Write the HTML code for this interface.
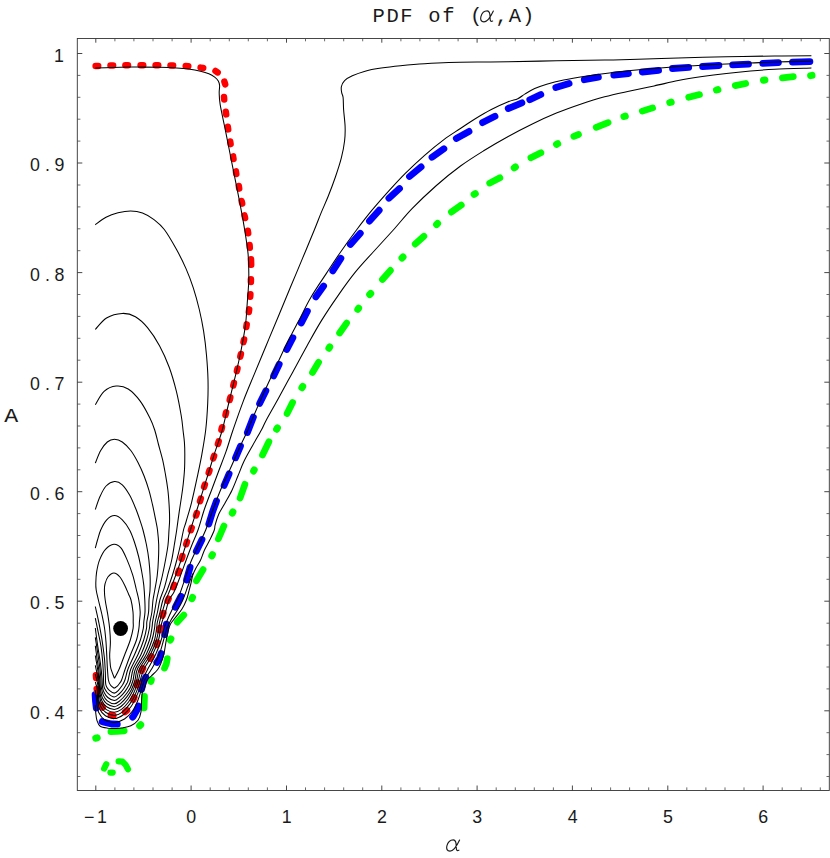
<!DOCTYPE html>
<html><head><meta charset="utf-8"><title>PDF of (alpha, A)</title>
<style>html,body{margin:0;padding:0;background:#fff}svg{display:block}text{font-family:"Liberation Mono",monospace;fill:#1a1a1a}text.d{font-family:"Liberation Sans",sans-serif}</style></head><body>
<svg width="830" height="858" viewBox="0 0 830 858">
<rect width="830" height="858" fill="#fff"/>
<g fill="none" stroke="#00ff00" stroke-width="6.7" stroke-linecap="round" stroke-linejoin="round">
<path d="M793.3,76.6L782.4,77.9"/>
<path d="M745.7,83.5L735.3,85.6"/>
<path d="M699.5,94.6L688.7,97.3"/>
<path d="M652.6,107.9L642.3,111.1"/>
<path d="M608.1,122.6L596.2,127.3"/>
<path d="M578.5,134.5L573.8,136.3"/>
<path d="M540.9,152.8L530.9,157.8"/>
<path d="M499.9,177.7L489.7,183.1"/>
<path d="M461.3,205.1L451.4,212.1"/>
<path d="M423.9,236.2L415.2,244.1"/>
<path d="M390.4,270.4L382.4,279.4"/>
<path d="M346.6,323.1L339.6,333.0"/>
<path d="M318.6,362.3L312.5,372.4"/>
<path d="M292.6,402.5L287.1,413.4"/>
<path d="M268.9,441.7L262.5,455.0"/>
<path d="M244.9,484.3L240.1,498.0"/>
<path d="M223.9,526.0L218.4,538.8"/>
<path d="M203.1,569.6L196.4,580.8"/>
<path d="M183.8,615.0L177.2,622.1"/>
<path d="M167.3,658.6L166.3,664.0L164.5,668.1"/>
<path d="M144.5,696.3L144.3,702.0L144.1,708.0"/>
<path d="M124.2,730.8L117.0,731.4L110.9,731.6"/>
</g>
<g fill="none" stroke="#00ff00" stroke-width="6.2" stroke-linecap="round" stroke-linejoin="round">
<path d="M104.1,768.6L106.3,764.2"/>
<path d="M110.4,772.6L112.7,772.6"/>
<path d="M118.6,761.3L122.5,761.7L125.4,764.6L128.0,769.3"/>
</g>
<g fill="none" stroke="#00ff00" stroke-width="7.0" stroke-linecap="round">
<path d="M812.0,75.4L810.6,75.6"/>
<path d="M764.9,80.0L763.5,80.2"/>
<path d="M717.9,89.6L716.5,90.0"/>
<path d="M671.2,102.1L669.8,102.5"/>
<path d="M625.3,116.1L623.9,116.5"/>
<path d="M557.7,143.7L556.5,144.3"/>
<path d="M515.4,167.0L514.2,167.8"/>
<path d="M475.3,193.6L474.1,194.4"/>
<path d="M437.6,223.5L436.6,224.5"/>
<path d="M403.0,257.0L402.0,258.0"/>
<path d="M370.7,293.5L369.7,294.5"/>
<path d="M358.6,308.2L357.8,309.4"/>
<path d="M329.7,347.0L328.9,348.2"/>
<path d="M302.7,386.5L301.9,387.7"/>
<path d="M277.4,428.0L276.6,429.2"/>
<path d="M254.2,469.8L253.6,471.0"/>
<path d="M232.9,511.9L232.3,513.1"/>
<path d="M212.4,554.7L211.8,555.9"/>
<path d="M192.5,597.5L191.9,598.7"/>
<path d="M170.9,638.8L170.3,640.0"/>
<path d="M151.3,679.9L150.9,681.3"/>
<path d="M140.7,724.8L139.7,725.8"/>
<path d="M97.2,737.8L95.8,738.2"/>
</g>
<g fill="none" stroke="#0000ff" stroke-width="6.8" stroke-linecap="round" stroke-linejoin="round">
<path d="M809.9,61.7L792.5,62.2"/>
<path d="M778.4,62.6L762.8,63.4"/>
<path d="M748.5,64.1L732.7,64.8"/>
<path d="M718.9,65.5L702.6,66.5"/>
<path d="M688.7,67.4L672.5,68.5"/>
<path d="M658.6,70.3L642.3,72.0"/>
<path d="M628.4,73.6L613.8,75.1"/>
<path d="M598.4,77.2L584.3,79.7"/>
<path d="M569.1,83.4L555.8,87.4"/>
<path d="M540.8,94.5L529.8,99.8"/>
<path d="M521.9,102.8L508.2,108.5"/>
<path d="M495.0,116.2L482.6,122.6"/>
<path d="M469.0,131.4L456.3,138.4"/>
<path d="M443.9,148.8L432.0,157.2"/>
<path d="M421.1,166.9L409.5,176.5"/>
<path d="M399.5,188.6L388.9,198.2"/>
<path d="M379.2,210.2L369.5,221.1"/>
<path d="M360.3,233.3L350.4,244.4"/>
<path d="M340.9,258.3L332.8,270.8"/>
<path d="M323.6,286.0L315.9,296.9"/>
<path d="M307.4,311.2L301.3,323.0"/>
<path d="M292.9,337.7L286.8,349.5"/>
<path d="M279.2,364.2L273.6,376.0"/>
<path d="M265.9,390.7L259.6,403.5"/>
<path d="M253.4,417.1L247.4,432.6"/>
<path d="M240.5,446.2L235.5,457.8"/>
<path d="M229.1,473.9L224.1,485.5"/>
<path d="M216.5,501.0L212.5,512.0L208.8,524.1"/>
<path d="M202.0,539.5L196.3,551.2"/>
<path d="M190.1,567.3L186.5,580.0"/>
<path d="M180.9,596.2L175.3,607.2"/>
<path d="M166.4,624.2L164.6,634.6"/>
<path d="M161.1,653.5L159.5,658.5L156.8,662.5"/>
<path d="M145.7,677.1L143.4,681.7L141.6,689.5"/>
<path d="M138.5,705.9L137.4,709.4L133.2,716.6L132.6,717.2"/>
<path d="M117.3,724.2L111.5,724.0L103.1,722.0L102.2,721.6"/>
<path d="M96.3,708.0L95.5,701.0L95.1,694.6"/>
</g>
<g fill="none" stroke="#ff0000" stroke-width="6.5" stroke-linecap="round">
<path d="M95.6,65.9L98.2,65.9"/>
<path d="M110.5,65.4L113.1,65.4"/>
<path d="M125.4,65.2L128.0,65.2"/>
<path d="M140.6,65.2L143.2,65.2"/>
<path d="M155.6,65.2L158.2,65.2"/>
<path d="M170.5,65.4L173.1,65.4"/>
<path d="M185.7,66.0L188.3,66.2"/>
<path d="M200.6,67.6L203.2,68.0"/>
<path d="M215.5,71.0L217.7,72.4"/>
<path d="M224.4,81.7L225.2,84.3"/>
<path d="M224.0,96.9L224.2,99.5"/>
<path d="M225.8,111.8L226.2,114.4"/>
<path d="M227.8,126.8L228.2,129.4"/>
<path d="M230.2,141.5L230.6,144.1"/>
<path d="M233.1,156.4L233.5,159.0"/>
<path d="M235.9,171.4L236.3,174.0"/>
<path d="M238.8,186.0L239.2,188.6"/>
<path d="M241.6,201.0L242.2,203.6"/>
<path d="M244.5,215.4L245.1,218.0"/>
<path d="M247.8,230.7L248.2,233.3"/>
<path d="M249.6,245.1L249.8,247.7"/>
<path d="M251.0,259.2L251.2,264.8"/>
<path d="M250.9,279.3L250.9,281.9"/>
<path d="M250.4,294.2L250.2,296.8"/>
<path d="M249.2,309.4L248.8,312.0"/>
<path d="M246.7,324.4L246.3,327.0"/>
<path d="M244.1,339.5L243.5,342.1"/>
<path d="M240.9,354.0L240.3,356.6"/>
<path d="M237.5,368.5L236.9,371.1"/>
<path d="M233.9,382.9L233.3,385.5"/>
<path d="M230.3,397.4L229.7,400.0"/>
<path d="M226.1,412.3L225.5,414.9"/>
<path d="M222.0,427.2L221.4,429.8"/>
<path d="M218.7,441.4L217.9,444.0"/>
<path d="M214.1,455.9L213.3,458.3"/>
<path d="M209.5,470.4L208.7,472.8"/>
<path d="M204.9,484.5L204.1,486.9"/>
<path d="M200.8,498.6L200.0,501.2"/>
<path d="M196.8,513.1L196.0,515.5"/>
<path d="M191.7,527.8L190.9,530.2"/>
<path d="M187.0,541.8L186.2,544.2"/>
<path d="M182.4,556.2L181.6,558.8"/>
<path d="M178.8,570.7L178.0,573.1"/>
<path d="M174.2,584.8L173.4,587.2"/>
<path d="M168.6,598.7L167.6,601.1"/>
<path d="M163.4,613.0L162.6,615.6"/>
<path d="M160.1,627.7L159.5,630.3"/>
<path d="M157.6,642.5L156.8,644.9"/>
<path d="M151.5,656.4L150.3,658.6"/>
<path d="M143.0,668.4L141.8,670.8"/>
<path d="M137.6,682.7L136.8,685.1"/>
<path d="M134.3,697.4L133.3,699.8"/>
<path d="M127.0,710.4L125.0,712.0"/>
<path d="M113.4,715.5L110.8,715.1"/>
<path d="M102.6,707.6L101.2,705.4"/>
<path d="M97.3,691.6L96.7,689.0"/>
<path d="M96.1,677.9L95.9,675.3"/>
</g>
<g fill="none" stroke="#000" stroke-width="1.05" stroke-linejoin="round" stroke-linecap="butt">
<path d="M114.5,678.3C115.3,676.8 117.5,673.0 119.2,669.0C120.9,665.0 122.9,659.3 124.8,654.5C126.7,649.7 128.9,644.4 130.3,640.0C131.7,635.6 132.6,631.4 133.1,628.4C133.6,625.4 133.2,624.7 133.2,622.0C133.2,619.3 133.4,615.7 133.0,612.0C132.6,608.3 131.8,603.0 131.0,600.0C130.2,597.0 129.5,596.4 128.5,594.0C127.5,591.6 126.2,588.2 124.8,585.4C123.4,582.6 121.7,579.1 119.9,577.0C118.1,574.9 115.9,573.0 113.9,573.0C111.9,573.0 109.4,575.2 107.9,577.0C106.4,578.8 105.6,581.8 105.0,584.0C104.4,586.2 104.4,587.3 104.4,590.0C104.4,592.7 104.6,595.7 105.2,600.0C105.8,604.3 107.3,611.3 108.0,616.0C108.7,620.7 109.2,623.7 109.6,628.0C110.0,632.3 110.4,637.6 110.4,642.0C110.4,646.4 109.8,651.2 109.7,654.2C109.6,657.2 109.7,657.6 109.9,660.0C110.1,662.4 110.1,665.7 110.9,668.7C111.7,671.8 113.9,676.7 114.5,678.3"/>
<path d="M114.3,688.3C114.8,687.9 116.7,686.7 117.6,685.8C118.5,684.9 119.1,684.0 119.8,683.0C120.5,682.0 120.7,682.3 121.6,680.0C122.5,677.7 123.7,673.2 125.2,669.0C126.7,664.8 128.7,659.3 130.6,654.5C132.5,649.7 135.1,644.4 136.5,640.0C137.9,635.6 138.4,631.4 138.9,628.4C139.4,625.4 139.2,624.7 139.4,622.0C139.6,619.3 140.3,615.7 140.2,612.0C140.1,608.3 139.5,603.8 138.8,600.0C138.1,596.2 137.2,593.2 136.2,589.0C135.2,584.8 134.1,579.4 132.6,574.6C131.1,569.8 129.1,564.5 127.2,560.1C125.3,555.7 123.3,550.8 121.1,548.1C118.9,545.5 116.5,544.0 113.9,544.2C111.3,544.4 107.9,546.6 105.5,549.3C103.1,551.9 101.0,556.3 99.5,560.1C98.0,563.9 97.2,568.4 96.6,572.2C96.0,576.0 95.9,580.0 95.8,583.0C95.7,586.0 95.8,587.2 96.2,590.0C96.6,592.8 97.5,596.0 98.4,600.0C99.3,604.0 100.8,609.3 101.8,614.0C102.8,618.7 103.8,623.3 104.5,628.0C105.2,632.7 105.6,637.3 106.0,642.0C106.4,646.7 106.5,651.3 106.8,656.0C107.0,660.7 107.2,666.0 107.5,670.0C107.8,674.0 107.9,677.5 108.4,680.0C108.9,682.5 109.6,683.9 110.6,685.3C111.6,686.7 113.7,687.8 114.3,688.3"/>
<path d="M95.3,548.1C95.7,546.8 96.6,543.0 97.5,540.0C98.4,537.0 99.2,533.4 100.7,530.0C102.2,526.6 104.4,522.2 106.7,519.8C109.0,517.4 111.9,515.5 114.5,515.5C117.1,515.5 119.8,517.4 122.3,519.8C124.8,522.2 127.6,526.3 129.6,530.0C131.6,533.7 132.9,537.6 134.4,542.0C135.9,546.4 137.4,551.7 138.6,556.5C139.8,561.3 140.7,566.2 141.6,571.0C142.5,575.8 143.3,580.6 143.8,585.4C144.3,590.2 144.6,595.6 144.8,600.0C145.0,604.4 145.2,608.3 145.0,612.0C144.8,615.7 144.1,619.3 143.8,622.0C143.5,624.7 143.9,625.4 143.3,628.4C142.7,631.4 141.9,635.6 140.4,640.0C138.9,644.4 136.7,649.7 134.6,654.5C132.5,659.3 129.6,664.8 128.0,669.0C126.4,673.2 125.9,677.3 124.9,680.0C124.0,682.7 123.3,683.6 122.3,685.3C121.2,687.0 119.9,688.8 118.6,690.1C117.3,691.4 115.8,693.1 114.3,693.1C112.8,693.1 110.6,691.4 109.3,690.3C108.0,689.2 107.0,687.6 106.4,686.4C105.8,685.2 105.8,685.4 105.6,683.0C105.4,680.6 105.5,675.8 105.3,672.0C105.1,668.2 104.9,663.5 104.6,660.0C104.3,656.5 104.1,655.1 103.6,651.3C103.1,647.5 102.4,642.0 101.6,637.3C100.8,632.6 100.0,628.4 99.0,623.3C98.0,618.2 95.9,609.3 95.3,606.5"/>
<path d="M95.3,509.5C96.1,507.3 98.3,500.2 100.1,496.3C101.9,492.4 103.7,488.4 106.1,486.0C108.5,483.6 111.8,481.8 114.5,481.6C117.2,481.4 119.8,482.6 122.3,484.8C124.8,487.1 127.4,491.2 129.6,495.1C131.8,499.0 133.8,503.9 135.6,508.3C137.4,512.7 139.2,518.0 140.4,521.6C141.6,525.2 142.0,526.2 143.0,530.0C144.0,533.8 145.4,539.5 146.4,544.5C147.4,549.5 148.3,554.9 148.9,560.1C149.5,565.3 149.9,570.8 150.1,575.8C150.3,580.8 150.2,586.0 150.0,590.0C149.8,594.0 149.2,596.3 149.0,600.0C148.8,603.7 149.0,608.3 148.6,612.0C148.2,615.7 147.2,619.3 146.8,622.0C146.5,624.7 147.0,625.4 146.5,628.4C146.0,631.4 145.1,635.6 143.7,640.0C142.3,644.4 140.2,649.7 138.0,654.5C135.8,659.3 132.4,664.8 130.8,669.0C129.2,673.2 128.8,677.7 128.2,680.0C127.6,682.3 127.8,681.4 127.1,682.9C126.3,684.4 125.0,686.9 123.7,688.7C122.4,690.6 120.7,692.6 119.1,694.0C117.5,695.4 116.1,697.0 114.3,697.0C112.5,697.0 109.9,695.1 108.3,693.7C106.7,692.4 105.7,690.4 104.9,688.9C104.1,687.4 104.0,687.5 103.7,685.0C103.5,682.5 103.6,678.1 103.4,674.0C103.2,669.9 103.0,665.2 102.6,660.6C102.2,656.0 101.7,651.3 101.0,646.6C100.3,641.9 99.2,637.3 98.3,632.6C97.3,627.9 95.8,620.6 95.3,618.2"/>
<path d="M95.3,463.1C96.2,461.0 98.7,454.0 100.7,450.5C102.7,447.0 105.0,443.9 107.3,442.0C109.6,440.1 112.0,439.3 114.5,439.3C117.0,439.3 119.6,440.1 122.3,442.0C125.0,443.9 128.2,447.1 130.8,450.5C133.4,453.9 135.8,458.3 138.0,462.5C140.2,466.7 142.2,471.2 144.0,475.8C145.8,480.4 147.5,485.4 148.9,490.2C150.3,495.0 151.4,499.9 152.5,504.7C153.6,509.5 154.7,515.0 155.5,519.2C156.3,523.4 157.0,525.8 157.5,530.0C158.0,534.2 158.5,539.5 158.7,544.5C158.8,549.5 158.7,554.8 158.4,560.0C158.2,565.2 157.8,570.8 157.2,575.8C156.6,580.8 155.5,586.0 154.8,590.0C154.1,594.0 153.5,596.3 153.0,600.0C152.5,603.7 152.4,608.3 151.9,612.0C151.4,615.7 150.4,619.3 150.0,622.0C149.6,624.7 150.0,625.4 149.4,628.4C148.8,631.4 148.0,635.6 146.6,640.0C145.2,644.4 143.2,649.7 141.0,654.5C138.8,659.3 134.9,664.8 133.2,669.0C131.5,673.2 131.6,677.3 130.9,680.0C130.2,682.7 129.9,683.4 128.9,685.3C127.9,687.2 126.5,689.6 124.9,691.6C123.4,693.6 121.4,695.8 119.6,697.3C117.8,698.8 116.3,700.5 114.3,700.5C112.3,700.5 109.5,698.9 107.8,697.5C106.1,696.1 104.9,694.0 104.0,692.2C103.1,690.4 102.8,689.3 102.5,686.9C102.2,684.5 102.3,681.8 102.0,678.0C101.7,674.2 101.2,669.3 100.5,663.9C99.8,658.5 98.6,651.8 97.7,645.8C96.8,639.8 95.7,631.0 95.3,628.0"/>
<path d="M95.3,404.7C96.8,402.5 100.6,394.5 104.1,391.4C107.6,388.3 112.1,386.5 116.1,386.1C120.1,385.7 124.2,386.5 128.2,389.0C132.2,391.5 136.6,396.3 140.2,401.1C143.8,405.9 147.5,413.2 149.9,418.0C152.3,422.8 153.3,425.6 154.7,430.0C156.1,434.4 157.2,439.5 158.5,444.5C159.8,449.5 161.5,454.9 162.7,460.1C163.9,465.3 164.8,470.8 165.7,475.8C166.6,480.8 167.3,485.4 167.9,490.2C168.5,495.0 168.8,499.9 169.1,504.7C169.4,509.5 169.6,515.0 169.6,519.2C169.6,523.4 169.3,525.7 169.0,530.0C168.7,534.3 168.6,540.0 168.0,545.0C167.4,550.0 166.4,555.0 165.5,560.0C164.6,565.0 163.6,570.0 162.5,575.0C161.4,580.0 159.8,585.8 158.8,590.0C157.8,594.2 157.3,596.3 156.6,600.0C155.9,603.7 155.2,608.3 154.5,612.0C153.8,615.7 153.0,619.3 152.6,622.0C152.2,624.7 152.4,625.4 151.9,628.4C151.4,631.4 150.9,635.6 149.5,640.0C148.1,644.4 146.0,649.7 143.7,654.5C141.3,659.3 137.2,664.8 135.4,669.0C133.6,673.2 133.9,676.9 133.1,680.0C132.2,683.1 131.5,685.3 130.3,687.7C129.1,690.1 127.5,692.3 125.8,694.5C124.1,696.7 121.9,699.2 120.0,700.7C118.1,702.2 116.4,703.8 114.3,703.8C112.2,703.8 109.1,702.3 107.3,700.9C105.5,699.5 104.2,697.1 103.3,695.1C102.3,693.1 102.0,690.6 101.6,688.9C101.2,687.2 101.2,687.1 101.1,685.0C100.9,682.9 101.0,679.8 100.7,676.5C100.4,673.2 100.1,669.7 99.5,665.3C98.9,660.9 98.0,655.0 97.3,650.3C96.6,645.6 95.6,639.5 95.3,637.3"/>
<path d="M95.3,329.5C97.2,327.6 102.0,320.7 106.5,318.0C111.0,315.3 117.4,313.6 122.2,313.4C127.0,313.2 131.2,314.3 135.4,316.7C139.6,319.1 143.5,322.8 147.5,327.6C151.5,332.4 155.9,339.1 159.5,345.7C163.1,352.3 166.4,359.7 169.2,367.3C172.0,374.9 174.4,383.4 176.4,391.4C178.4,399.4 180.1,409.1 181.2,415.5C182.3,421.9 182.5,425.6 183.0,430.0C183.5,434.4 184.1,438.0 184.4,442.0C184.7,446.0 184.8,449.5 184.8,454.1C184.8,458.7 184.8,464.8 184.5,469.8C184.2,474.8 183.7,479.6 183.2,484.2C182.7,488.8 182.1,492.9 181.4,497.5C180.7,502.1 180.0,506.5 179.2,511.9C178.4,517.3 177.5,524.5 176.7,530.0C175.9,535.5 175.1,540.0 174.3,545.0C173.5,550.0 172.7,555.3 171.7,560.0C170.7,564.7 169.3,568.8 168.1,573.4C166.9,578.0 165.7,583.4 164.3,587.8C162.9,592.2 161.0,596.0 159.9,600.0C158.8,604.0 158.3,608.3 157.5,612.0C156.7,615.7 155.7,619.3 155.2,622.0C154.7,624.7 155.0,625.4 154.5,628.4C154.0,631.4 153.4,635.6 152.0,640.0C150.6,644.4 148.6,649.7 146.2,654.5C143.8,659.3 139.3,664.8 137.4,669.0C135.5,673.2 136.0,676.6 135.0,680.0C134.0,683.4 132.9,686.8 131.5,689.6C130.1,692.4 128.6,694.6 126.8,696.9C125.0,699.2 122.6,702.0 120.5,703.6C118.4,705.2 116.6,706.7 114.3,706.7C112.0,706.7 108.9,705.2 106.9,703.8C104.9,702.3 103.5,700.1 102.5,698.0C101.5,695.9 101.2,693.5 100.8,691.3C100.4,689.1 100.3,687.4 100.1,685.0C99.9,682.6 99.8,679.8 99.5,677.0C99.2,674.2 98.9,671.2 98.5,668.0C98.1,664.8 97.4,661.5 96.9,657.8C96.4,654.1 95.6,647.7 95.3,645.7"/>
<path d="M95.3,224.7C97.1,223.4 102.2,219.2 106.0,217.2C109.8,215.2 113.9,213.8 118.0,212.8C122.1,211.8 126.5,211.0 130.6,211.0C134.7,211.0 138.6,211.5 142.5,212.9C146.4,214.3 150.4,216.8 154.0,219.6C157.6,222.4 160.6,224.6 164.3,229.5C168.0,234.4 172.8,242.8 176.4,249.3C180.0,255.8 183.2,262.2 186.0,268.6C188.8,275.0 191.1,281.0 193.3,287.8C195.5,294.6 197.6,302.3 199.3,309.5C201.0,316.7 202.4,323.6 203.6,331.2C204.8,338.8 205.8,347.3 206.5,355.3C207.2,363.3 207.8,371.4 208.0,379.4C208.2,387.4 208.1,395.1 207.7,403.5C207.3,411.9 206.7,421.6 205.7,430.0C204.7,438.4 203.3,446.1 201.9,454.1C200.5,462.1 198.7,470.2 197.0,478.2C195.3,486.2 193.4,495.0 191.6,502.3C189.8,509.6 187.3,517.4 186.0,522.0C184.7,526.6 184.4,526.2 183.5,530.0C182.6,533.8 181.5,540.0 180.4,545.0C179.3,550.0 178.1,555.0 176.8,560.0C175.5,565.0 174.1,570.0 172.5,575.0C170.9,580.0 168.8,585.8 167.2,590.0C165.6,594.2 164.1,596.3 162.9,600.0C161.7,603.7 160.9,608.3 160.0,612.0C159.1,615.7 158.0,619.3 157.4,622.0C156.8,624.7 157.1,625.4 156.6,628.4C156.1,631.4 155.9,635.6 154.5,640.0C153.1,644.4 150.8,649.7 148.3,654.5C145.8,659.3 141.3,664.8 139.4,669.0C137.5,673.2 137.4,677.5 136.8,680.0C136.2,682.5 136.3,682.0 135.6,683.9C134.8,685.8 133.6,689.0 132.3,691.6C131.0,694.2 129.7,696.8 127.8,699.3C125.9,701.8 123.2,704.8 121.0,706.5C118.8,708.2 116.7,709.5 114.3,709.5C111.9,709.5 108.6,708.1 106.6,706.7C104.5,705.3 103.1,703.1 102.0,700.9C100.9,698.7 100.5,696.4 100.1,693.7C99.7,691.1 99.7,687.8 99.4,685.0C99.2,682.2 98.9,679.7 98.6,677.0C98.3,674.3 98.0,671.5 97.6,669.0C97.2,666.5 96.8,664.2 96.4,662.0C96.0,659.8 95.5,656.6 95.3,655.5"/>
<path d="M95.3,68.1C98.0,68.0 105.8,67.8 111.3,67.6C116.8,67.4 123.0,67.2 128.2,67.1C133.4,67.0 137.5,67.1 142.7,67.1C147.9,67.1 153.9,67.1 159.5,67.3C165.1,67.5 171.6,67.8 176.4,68.1C181.2,68.4 184.4,68.6 188.4,69.1C192.4,69.6 197.1,70.4 200.5,71.2C203.9,72.0 206.5,72.8 208.9,73.8C211.3,74.8 213.1,75.9 214.7,77.1C216.3,78.3 217.5,79.6 218.3,81.0C219.1,82.4 219.4,83.4 219.6,85.4C219.8,87.4 219.1,89.9 219.2,93.0C219.3,96.1 219.2,98.6 220.1,104.2C221.0,109.8 223.0,118.7 224.6,126.4C226.2,134.1 227.8,142.5 229.4,150.5C231.0,158.5 232.6,166.6 234.2,174.6C235.8,182.6 237.3,189.9 239.0,198.7C240.7,207.5 242.8,218.4 244.3,227.6C245.8,236.8 247.3,245.7 248.1,254.1C248.8,262.5 248.9,270.2 248.8,278.2C248.7,286.2 247.9,294.3 247.3,302.3C246.7,310.3 246.4,318.4 245.3,326.4C244.2,334.4 242.5,342.9 241.0,350.5C239.5,358.1 237.9,365.4 236.3,372.2C234.7,379.0 233.0,385.6 231.6,391.4C230.2,397.2 229.4,400.6 227.8,407.0C226.2,413.4 224.4,422.6 222.3,430.0C220.2,437.4 217.3,444.9 215.1,451.7C212.9,458.5 211.1,464.6 209.1,471.0C207.1,477.4 205.1,483.8 203.1,490.2C201.1,496.6 199.1,502.9 197.0,509.5C194.9,516.1 192.3,523.9 190.4,530.0C188.5,536.1 187.1,541.0 185.5,546.0C183.9,551.0 182.7,555.2 181.1,560.0C179.5,564.8 177.7,570.0 175.8,575.0C174.0,580.0 171.7,585.8 170.0,590.0C168.3,594.2 167.2,596.3 165.9,600.0C164.6,603.7 163.4,608.3 162.3,612.0C161.2,615.7 160.2,619.3 159.6,622.0C159.0,624.7 159.3,625.4 158.8,628.4C158.3,631.4 157.8,635.6 156.4,640.0C155.0,644.4 152.9,649.7 150.4,654.5C147.9,659.3 143.6,664.8 141.6,669.0C139.6,673.2 139.3,677.4 138.5,680.0C137.7,682.6 137.8,682.5 137.0,684.8C136.2,687.0 134.9,690.7 133.5,693.5C132.1,696.3 130.7,699.1 128.7,701.7C126.7,704.4 123.9,707.6 121.5,709.4C119.1,711.1 116.8,712.2 114.3,712.2C111.8,712.2 108.5,711.0 106.4,709.6C104.3,708.2 102.7,706.0 101.6,703.8C100.5,701.6 100.0,698.9 99.6,696.6C99.1,694.3 99.1,692.1 98.9,689.8C98.7,687.5 98.7,685.1 98.5,683.0C98.3,680.9 97.9,679.0 97.6,677.0C97.3,675.0 96.9,673.0 96.5,671.0C96.1,669.0 95.5,666.2 95.3,665.3"/>
<path d="M811.4,55.8C805.3,55.8 788.8,55.9 774.6,56.0C760.4,56.1 742.5,56.4 726.4,56.7C710.3,57.0 694.3,57.5 678.2,58.0C662.1,58.5 642.3,59.2 630.0,59.6C617.7,60.0 616.9,59.9 604.6,60.1C592.3,60.3 572.5,60.5 556.4,60.8C540.3,61.1 520.9,61.6 508.2,61.8C495.5,62.0 489.9,61.9 480.0,62.0C470.1,62.1 457.9,62.2 448.7,62.5C439.5,62.8 432.6,63.2 424.6,63.7C416.6,64.2 407.7,65.0 400.5,65.7C393.3,66.4 387.2,67.1 381.2,68.1C375.2,69.0 369.1,70.1 364.3,71.4C359.5,72.7 355.6,74.3 352.3,75.8C349.0,77.3 346.4,78.8 344.6,80.6C342.8,82.4 341.9,84.6 341.4,86.6C340.9,88.6 341.4,90.9 341.7,92.7C342.0,94.5 342.8,94.7 343.1,97.5C343.4,100.3 343.3,104.7 343.6,109.5C343.9,114.3 344.9,121.2 345.1,126.4C345.3,131.6 345.2,135.6 344.6,140.8C344.0,146.0 342.9,151.7 341.4,157.7C339.9,163.7 337.6,170.6 335.4,177.0C333.2,183.4 330.6,190.3 328.2,196.3C325.8,202.3 323.3,207.5 321.0,213.1C318.7,218.7 317.4,222.4 314.3,230.0C311.2,237.6 306.3,249.3 302.3,258.9C298.3,268.5 294.2,278.2 290.2,287.8C286.2,297.4 282.2,307.1 278.2,316.7C274.2,326.3 270.1,336.0 266.1,345.7C262.1,355.4 257.9,365.4 254.1,374.6C250.3,383.8 246.8,391.9 243.3,401.1C239.8,410.3 235.9,421.6 233.0,430.0C230.1,438.4 228.4,444.9 226.0,451.7C223.6,458.5 221.1,464.6 218.7,471.0C216.3,477.4 213.9,483.8 211.5,490.2C209.1,496.6 206.6,502.9 204.3,509.5C202.1,516.1 200.1,524.0 198.0,530.0C195.9,536.0 193.6,540.7 191.6,545.7C189.6,550.7 188.1,554.8 186.2,560.0C184.3,565.2 182.0,571.7 180.0,577.0C178.0,582.3 175.8,588.2 174.0,592.0C172.2,595.8 170.4,596.7 169.0,600.0C167.6,603.3 166.7,608.3 165.5,612.0C164.3,615.7 162.8,619.3 162.0,622.0C161.2,624.7 161.2,625.4 160.6,628.4C160.0,631.4 159.8,635.6 158.5,640.0C157.2,644.4 155.0,649.7 152.6,654.5C150.2,659.3 146.1,664.8 144.0,669.0C141.9,673.2 141.2,677.2 140.3,680.0C139.4,682.8 139.5,683.2 138.6,685.8C137.7,688.4 136.3,692.3 134.8,695.4C133.3,698.5 131.8,701.3 129.7,704.1C127.6,706.9 124.6,710.4 122.0,712.3C119.4,714.2 117.0,715.4 114.3,715.4C111.6,715.4 108.2,714.0 105.9,712.5C103.7,711.0 102.0,708.9 100.8,706.7C99.6,704.5 99.3,701.9 98.9,699.5C98.5,697.1 98.4,694.6 98.2,692.2C98.0,689.8 98.0,687.0 97.8,685.0C97.6,683.0 97.2,681.8 96.8,680.0C96.4,678.2 95.5,675.0 95.3,674.0"/>
<path d="M811.4,61.3C805.3,61.4 784.8,61.7 774.6,62.0C764.5,62.3 758.5,62.7 750.5,63.0C742.5,63.3 734.4,63.6 726.4,64.0C718.4,64.4 710.3,64.8 702.3,65.2C694.3,65.6 686.2,66.0 678.2,66.6C670.2,67.2 661.6,68.0 654.1,68.6C646.6,69.2 641.0,69.5 633.5,70.2C626.0,70.9 617.4,71.9 609.4,72.9C601.4,73.9 592.9,75.1 585.3,76.3C577.7,77.5 570.0,78.8 563.6,80.1C557.2,81.4 551.5,82.8 546.7,84.2C541.9,85.6 538.3,87.0 534.7,88.6C531.1,90.2 527.9,92.2 525.1,93.9C522.3,95.6 520.6,97.4 517.8,98.7C515.0,100.0 512.6,100.0 508.2,101.8C503.8,103.6 496.9,106.6 491.3,109.5C485.7,112.4 479.7,116.0 474.5,119.2C469.3,122.4 465.1,125.4 460.0,128.8C454.9,132.2 449.8,135.2 443.9,139.6C438.0,144.0 431.0,149.7 424.6,155.3C418.2,160.9 411.3,167.4 405.3,173.4C399.3,179.4 394.0,185.2 388.4,191.4C382.8,197.6 376.9,204.3 371.6,210.7C366.3,217.1 361.6,223.2 356.5,230.0C351.4,236.8 345.8,244.5 340.8,251.7C335.8,258.9 331.4,265.8 326.4,273.4C321.4,281.0 315.5,289.5 310.8,297.5C306.1,305.5 302.5,313.6 298.3,321.6C294.1,329.6 290.0,337.3 285.8,345.7C281.6,354.1 277.5,363.4 273.4,372.2C269.3,381.0 264.9,390.4 261.2,398.7C257.5,407.0 253.2,416.8 251.0,422.0C248.8,427.2 249.7,426.0 247.9,430.0C246.1,434.0 243.0,440.0 240.3,446.0C237.6,452.0 234.6,459.0 231.5,466.0C228.4,473.0 224.6,480.6 221.5,487.8C218.4,495.1 215.6,502.5 213.0,509.5C210.4,516.5 208.0,524.2 205.7,530.0C203.3,535.8 201.2,539.5 198.9,544.5C196.6,549.5 193.8,554.8 191.6,560.0C189.4,565.2 187.8,570.5 186.0,575.8C184.2,581.1 182.0,588.0 180.5,592.0C179.0,596.0 178.6,596.7 177.0,600.0C175.4,603.3 172.8,608.3 171.0,612.0C169.2,615.7 167.7,619.3 166.5,622.0C165.3,624.7 164.9,625.4 164.0,628.4C163.1,631.4 162.6,635.6 161.2,640.0C159.8,644.4 157.8,649.7 155.6,654.5C153.4,659.3 150.0,664.8 147.8,669.0C145.6,673.2 143.6,677.0 142.3,680.0C141.0,683.0 141.1,684.4 140.1,687.2C139.1,690.0 137.8,693.7 136.3,696.9C134.8,700.1 133.2,703.5 131.1,706.5C128.9,709.5 126.2,712.7 123.4,714.7C120.6,716.7 117.3,718.4 114.3,718.6C111.3,718.8 107.9,717.4 105.4,715.8C103.0,714.2 100.8,711.4 99.6,709.1C98.4,706.8 98.4,704.3 98.0,701.9C97.6,699.5 97.6,696.9 97.4,694.6C97.2,692.3 97.2,689.6 97.0,688.0C96.8,686.4 96.5,686.0 96.2,685.0C95.9,684.0 95.5,682.5 95.3,682.0"/>
<path d="M192.8,573.5C192.3,574.8 190.8,578.6 189.9,581.0C189.0,583.4 188.0,585.8 187.2,588.0C186.4,590.2 185.7,592.4 184.9,594.5C184.1,596.6 183.8,597.9 182.6,600.5C181.4,603.1 179.4,606.8 177.5,610.0C175.6,613.2 172.8,616.9 171.0,620.0C169.2,623.1 168.0,625.1 166.8,628.4C165.6,631.7 164.9,635.6 163.6,640.0C162.3,644.4 161.2,649.7 159.2,654.5C157.2,659.3 154.0,664.8 151.6,669.0C149.2,673.2 146.3,676.5 144.6,680.0C142.9,683.5 142.5,686.5 141.3,690.0C140.1,693.5 139.1,697.5 137.6,701.0C136.1,704.5 134.7,708.0 132.5,711.0C130.3,714.0 127.5,717.1 124.5,719.0C121.5,720.9 117.6,722.3 114.3,722.4C111.0,722.5 107.1,721.4 104.5,719.7C101.9,718.1 100.0,715.1 98.7,712.5C97.4,709.9 97.3,706.7 96.9,704.3C96.5,701.9 96.6,699.7 96.4,698.0C96.2,696.3 96.0,695.3 95.8,694.0C95.6,692.7 95.4,690.7 95.3,690.0"/>
<path d="M811.4,68.1C805.3,68.3 784.8,68.8 774.6,69.3C764.5,69.8 758.5,70.3 750.5,71.0C742.5,71.7 734.4,72.5 726.4,73.4C718.4,74.3 710.3,75.3 702.3,76.5C694.3,77.7 686.2,79.0 678.2,80.6C670.2,82.2 662.1,84.2 654.1,85.9C646.1,87.6 638.2,89.2 630.0,91.0C621.8,92.8 612.9,94.6 604.6,96.8C596.4,99.0 588.5,101.5 580.5,104.2C572.5,106.9 564.4,109.8 556.4,113.1C548.4,116.4 540.3,120.1 532.3,124.0C524.3,127.9 516.2,132.1 508.2,136.5C500.2,140.9 492.1,145.6 484.1,150.5C476.2,155.4 468.4,160.2 460.5,166.0C452.6,171.8 444.4,178.4 436.4,185.5C428.4,192.6 419.5,201.0 412.3,208.4C405.1,215.8 399.6,223.0 393.3,230.0C387.0,237.0 380.9,243.5 374.6,250.5C368.3,257.5 361.3,264.8 355.3,272.2C349.3,279.6 344.0,287.1 338.4,295.1C332.8,303.1 326.8,312.0 321.6,320.4C316.4,328.8 311.9,337.1 307.1,345.7C302.3,354.3 297.5,363.4 292.7,372.2C287.9,381.0 282.6,390.7 278.2,398.7C273.8,406.7 268.9,415.2 266.1,420.4C263.3,425.6 263.7,425.8 261.4,430.0C259.1,434.2 255.4,440.5 252.5,445.7C249.6,450.9 246.4,456.3 244.0,461.3C241.6,466.3 240.0,471.0 238.0,475.8C236.0,480.6 234.2,485.6 232.0,490.2C229.8,494.8 227.0,499.5 224.8,503.5C222.6,507.5 220.3,510.7 218.7,514.3C217.1,517.9 215.8,522.6 215.1,525.2C214.4,527.8 215.2,527.6 214.3,530.0C213.5,532.4 211.6,536.3 210.0,539.6C208.4,542.9 206.1,546.6 204.5,550.0C202.9,553.4 202.0,557.0 200.6,560.0C199.2,563.0 197.3,565.5 196.0,568.0C194.7,570.5 193.7,572.3 192.8,575.0C191.9,577.7 191.5,581.2 190.8,584.0C190.1,586.8 189.4,589.3 188.7,592.0C188.0,594.7 187.5,597.2 186.4,600.0C185.3,602.8 183.9,606.0 182.0,609.0C180.1,612.0 176.9,615.5 175.0,618.0C173.1,620.5 171.6,622.0 170.5,624.0C169.4,626.0 169.1,627.3 168.4,630.0C167.7,632.7 167.1,635.9 166.3,640.0C165.5,644.1 164.7,650.7 163.8,654.5C162.9,658.3 162.0,660.5 161.0,663.0C160.0,665.5 159.3,667.3 157.7,669.5C156.1,671.7 153.1,674.2 151.3,676.0C149.6,677.8 148.3,678.0 147.2,680.0C146.1,682.0 145.4,685.8 144.6,687.8C143.8,689.8 142.9,690.0 142.4,692.0C141.9,694.0 141.8,696.5 141.6,699.8C141.4,703.1 141.6,708.4 141.0,711.8C140.4,715.2 139.7,717.9 138.0,720.2C136.3,722.5 133.5,724.4 130.8,725.7C128.1,727.0 124.6,727.5 122.0,728.0C119.4,728.5 117.4,728.4 115.1,728.4C112.8,728.4 110.9,728.6 108.4,728.3C105.9,727.9 102.1,727.6 100.2,726.3C98.3,725.0 97.8,722.9 97.0,720.6C96.2,718.3 96.0,715.0 95.7,712.4C95.4,709.8 95.4,706.2 95.3,705.0"/>
</g>
<circle cx="120.6" cy="628.5" r="7.4" fill="#000"/>
<g fill="none" stroke="#333" stroke-width="0.9">
<rect x="77.3" y="38.5" width="752.0" height="752.0"/>
</g>
<path d="M95.8,790.5v-5.0M95.8,38.5v4.2M191.1,790.5v-5.0M191.1,38.5v4.2M286.5,790.5v-5.0M286.5,38.5v4.2M381.8,790.5v-5.0M381.8,38.5v4.2M477.1,790.5v-5.0M477.1,38.5v4.2M572.4,790.5v-5.0M572.4,38.5v4.2M667.8,790.5v-5.0M667.8,38.5v4.2M763.1,790.5v-5.0M763.1,38.5v4.2M77.3,53.5h5.0M829.3,53.5h-5.0M77.3,163.0h5.0M829.3,163.0h-5.0M77.3,272.6h5.0M829.3,272.6h-5.0M77.3,382.2h5.0M829.3,382.2h-5.0M77.3,491.7h5.0M829.3,491.7h-5.0M77.3,601.2h5.0M829.3,601.2h-5.0M77.3,710.8h5.0M829.3,710.8h-5.0" fill="none" stroke="#333" stroke-width="0.9"/>
<path d="M114.9,790.5v-3.1M114.9,38.5v2.8M133.9,790.5v-3.1M133.9,38.5v2.8M153.0,790.5v-3.1M153.0,38.5v2.8M172.1,790.5v-3.1M172.1,38.5v2.8M210.2,790.5v-3.1M210.2,38.5v2.8M229.3,790.5v-3.1M229.3,38.5v2.8M248.3,790.5v-3.1M248.3,38.5v2.8M267.4,790.5v-3.1M267.4,38.5v2.8M305.5,790.5v-3.1M305.5,38.5v2.8M324.6,790.5v-3.1M324.6,38.5v2.8M343.7,790.5v-3.1M343.7,38.5v2.8M362.7,790.5v-3.1M362.7,38.5v2.8M400.9,790.5v-3.1M400.9,38.5v2.8M419.9,790.5v-3.1M419.9,38.5v2.8M439.0,790.5v-3.1M439.0,38.5v2.8M458.1,790.5v-3.1M458.1,38.5v2.8M496.2,790.5v-3.1M496.2,38.5v2.8M515.3,790.5v-3.1M515.3,38.5v2.8M534.3,790.5v-3.1M534.3,38.5v2.8M553.4,790.5v-3.1M553.4,38.5v2.8M591.5,790.5v-3.1M591.5,38.5v2.8M610.6,790.5v-3.1M610.6,38.5v2.8M629.6,790.5v-3.1M629.6,38.5v2.8M648.7,790.5v-3.1M648.7,38.5v2.8M686.8,790.5v-3.1M686.8,38.5v2.8M705.9,790.5v-3.1M705.9,38.5v2.8M725.0,790.5v-3.1M725.0,38.5v2.8M744.0,790.5v-3.1M744.0,38.5v2.8M782.2,790.5v-3.1M782.2,38.5v2.8M801.2,790.5v-3.1M801.2,38.5v2.8M820.3,790.5v-3.1M820.3,38.5v2.8M77.3,75.4h3.1M829.3,75.4h-2.8M77.3,97.3h3.1M829.3,97.3h-2.8M77.3,119.2h3.1M829.3,119.2h-2.8M77.3,141.1h3.1M829.3,141.1h-2.8M77.3,185.0h3.1M829.3,185.0h-2.8M77.3,206.9h3.1M829.3,206.9h-2.8M77.3,228.8h3.1M829.3,228.8h-2.8M77.3,250.7h3.1M829.3,250.7h-2.8M77.3,294.5h3.1M829.3,294.5h-2.8M77.3,316.4h3.1M829.3,316.4h-2.8M77.3,338.3h3.1M829.3,338.3h-2.8M77.3,360.2h3.1M829.3,360.2h-2.8M77.3,404.1h3.1M829.3,404.1h-2.8M77.3,426.0h3.1M829.3,426.0h-2.8M77.3,447.9h3.1M829.3,447.9h-2.8M77.3,469.8h3.1M829.3,469.8h-2.8M77.3,513.6h3.1M829.3,513.6h-2.8M77.3,535.5h3.1M829.3,535.5h-2.8M77.3,557.4h3.1M829.3,557.4h-2.8M77.3,579.3h3.1M829.3,579.3h-2.8M77.3,623.2h3.1M829.3,623.2h-2.8M77.3,645.1h3.1M829.3,645.1h-2.8M77.3,667.0h3.1M829.3,667.0h-2.8M77.3,688.9h3.1M829.3,688.9h-2.8M77.3,732.7h3.1M829.3,732.7h-2.8M77.3,754.6h3.1M829.3,754.6h-2.8M77.3,776.5h3.1M829.3,776.5h-2.8" fill="none" stroke="#444" stroke-width="0.8"/>
<g font-size="17.8" text-anchor="middle">
<text class="d" x="89.1 102" y="822.9">−1</text>
<text class="d" x="191.3" y="822.9">0</text>
<text class="d" x="286.7" y="822.9">1</text>
<text class="d" x="382.0" y="822.9">2</text>
<text class="d" x="477.3" y="822.9">3</text>
<text class="d" x="572.6" y="822.9">4</text>
<text class="d" x="668.0" y="822.9">5</text>
<text class="d" x="763.3" y="822.9">6</text>
<text class="d" x="58.9" y="61.6">1</text>
<text class="d" x="35 47.6 59.4" y="171.2">0.9</text>
<text class="d" x="35 47.6 59.4" y="280.7">0.8</text>
<text class="d" x="35 47.6 59.4" y="390.3">0.7</text>
<text class="d" x="35 47.6 59.4" y="499.9">0.6</text>
<text class="d" x="35 47.6 59.4" y="609.4">0.5</text>
<text class="d" x="35 47.6 59.4" y="718.9">0.4</text>
</g>
<text transform="translate(11.2,422.4) scale(1.13,1)" x="0" y="0" font-size="20.6" text-anchor="middle">A</text>
<path transform="translate(447.6,839.9) scale(1.000) skewX(-9)" d="M12,0.1C10.8,4 8.4,11.2 4.2,11.2C1.2,11.2 0,8.8 0.2,6.1C0.6,2.1 3,0 5.7,0C8.7,0 9.4,4 9.9,7.6C10.2,10 11.1,11.4 12.9,10.3" fill="none" stroke="#1a1a1a" stroke-width="1.15" stroke-linecap="round" stroke-linejoin="round"/>
<text x="372.5" y="22" font-size="20.5" letter-spacing="1.63" xml:space="preserve">PDF of (</text>
<path transform="translate(481.6,10.9) scale(0.980) skewX(-9)" d="M12,0.1C10.8,4 8.4,11.2 4.2,11.2C1.2,11.2 0,8.8 0.2,6.1C0.6,2.1 3,0 5.7,0C8.7,0 9.4,4 9.9,7.6C10.2,10 11.1,11.4 12.9,10.3" fill="none" stroke="#1a1a1a" stroke-width="1.15" stroke-linecap="round" stroke-linejoin="round"/>
<text x="495.5" y="22" font-size="20.5" letter-spacing="1.0">,A)</text>
</svg></body></html>
